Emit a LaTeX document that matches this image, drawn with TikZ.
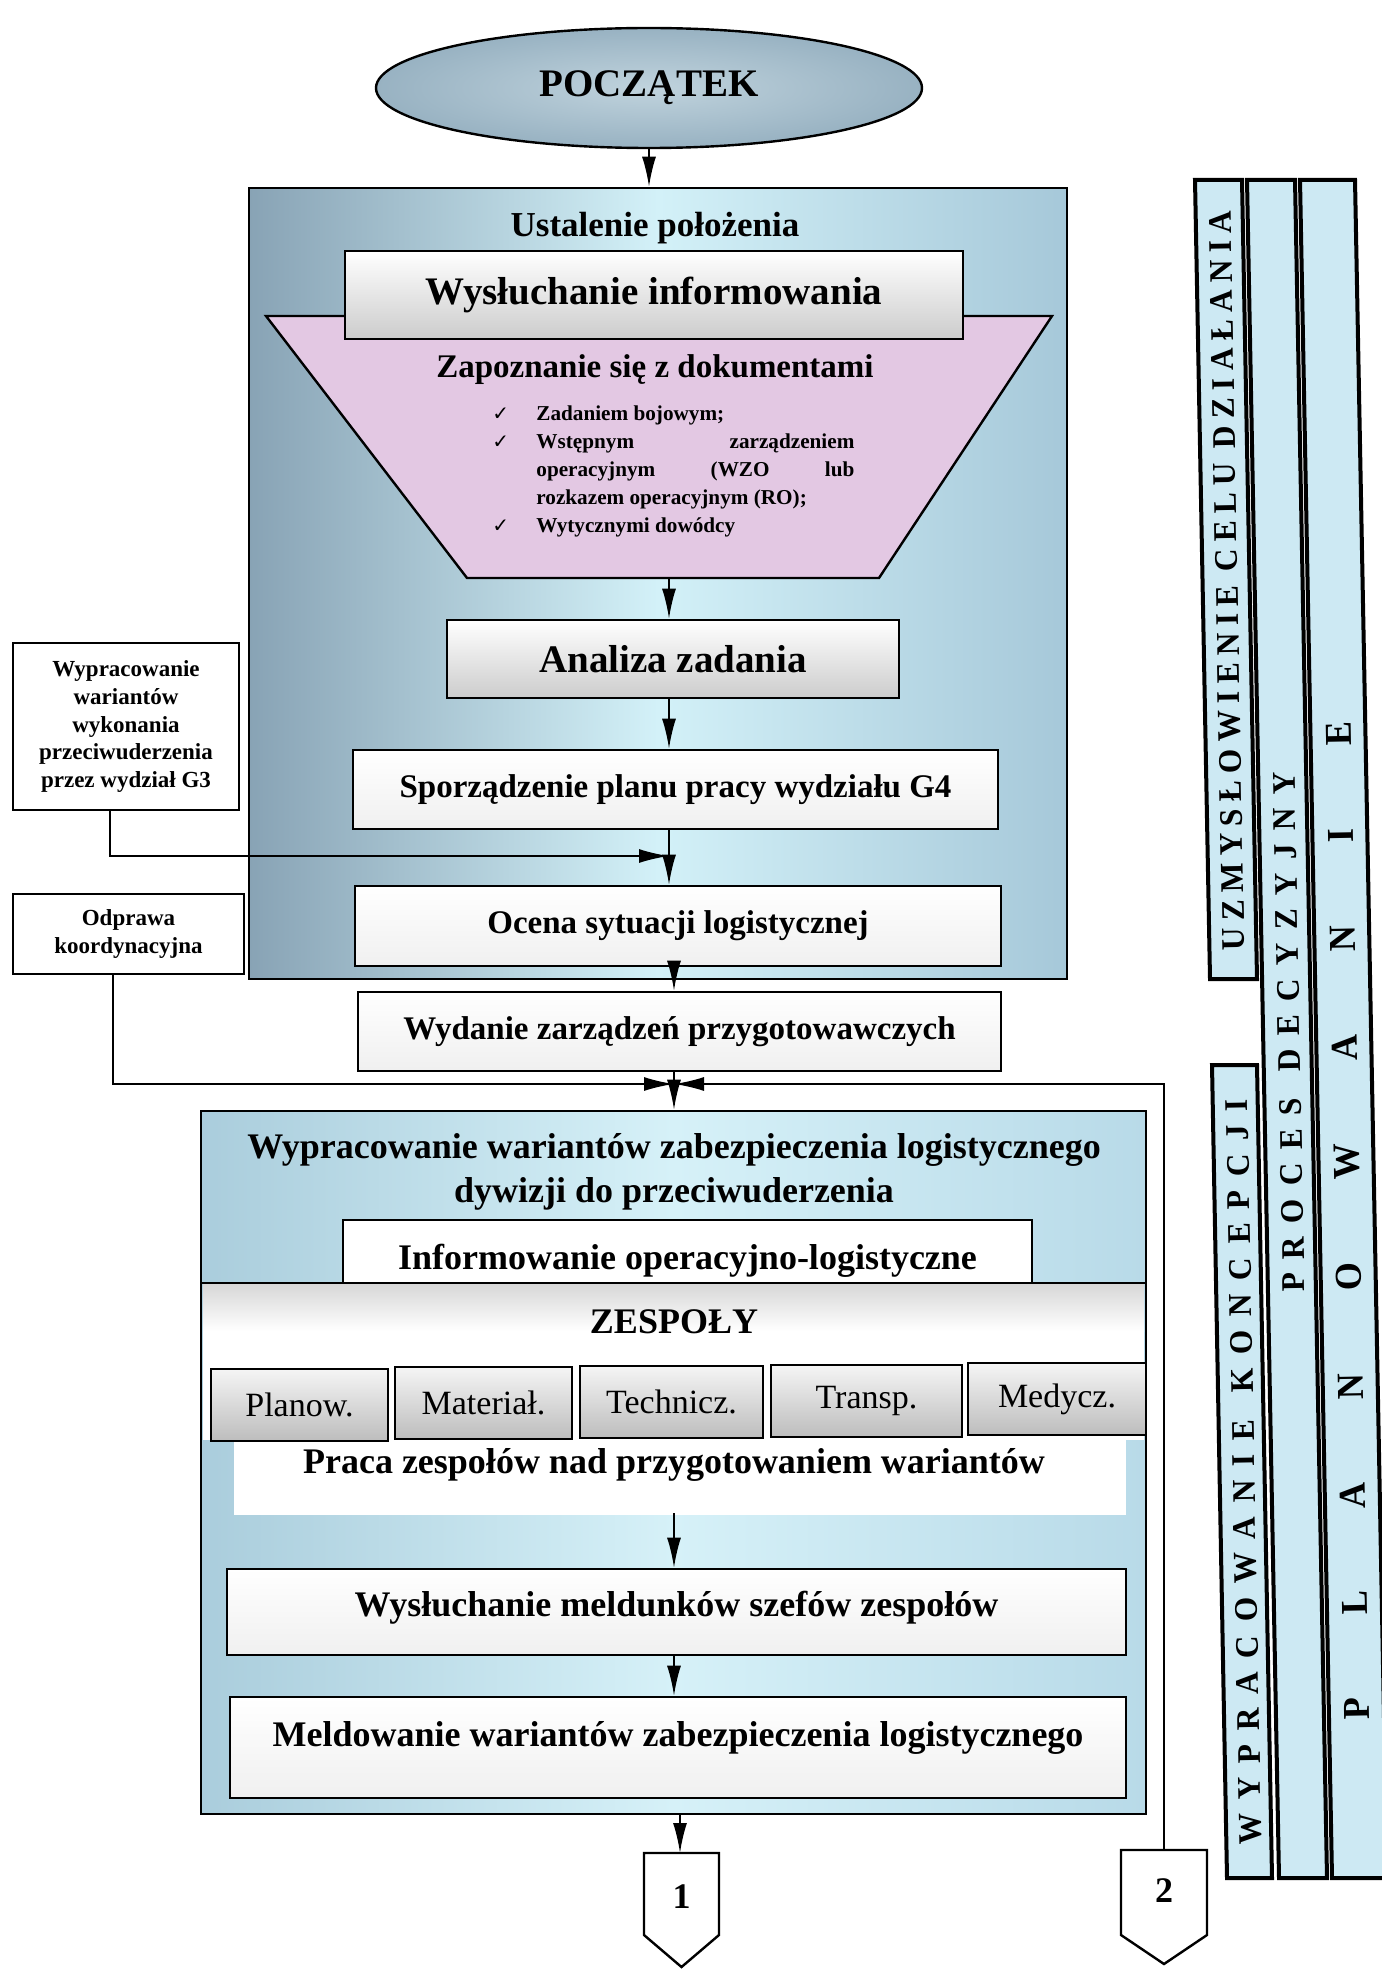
\documentclass[tikz,border=0pt]{standalone}
\usepackage{fontspec}
\setmainfont{Liberation Serif}
\newfontfamily\symfont{DejaVu Sans}
\newfontfamily\bandfont[FakeStretch=0.95]{Liberation Serif}
\newfontfamily\bandfontD[FakeStretch=0.95]{Liberation Serif}
\usetikzlibrary{arrows.meta,shapes.geometric,calc}

\definecolor{bOneL}{HTML}{88A3B5}
\definecolor{bOneM}{HTML}{D3F1F8}
\definecolor{bOneR}{HTML}{A6C8D9}
\definecolor{bTwoL}{HTML}{AACDDC}
\definecolor{bTwoM}{HTML}{D6F1F8}
\definecolor{bTwoR}{HTML}{B8DAE8}
\definecolor{ellO}{HTML}{98B2C2}
\definecolor{ellI}{HTML}{C0D3DD}
\definecolor{trapC}{HTML}{E3C8E3}
\definecolor{bandC}{HTML}{CDE9F3}

\ExplSyntaxOn
\NewDocumentCommand\spreadtext{mm}
 {
  \makebox[#1]{ \tl_map_inline:nn {#2} { \str_if_eq:nnTF {##1} {/} { \hfill } { ##1 \hfill } } \unskip }
 }
\ExplSyntaxOff

\newcommand\ck{\noindent\hangindent=22pt\hangafter=1\makebox[22pt][l]{\symfont\fontsize{10}{10}\selectfont ✓}}
\newcommand\fTitle{\fontsize{17.5}{21}\selectfont\bfseries}
\newcommand\fBig{\fontsize{19.5}{23}\selectfont\bfseries}
\newcommand\fMid{\fontsize{16.5}{20}\selectfont\bfseries}
\newcommand\fBox{\fontsize{18}{22}\selectfont\bfseries}
\newcommand\fSide{\fontsize{11.5}{13.8}\selectfont\bfseries}
\newcommand\fList{\fontsize{10.6}{14}\selectfont\bfseries}
\newcommand\fTeam{\fontsize{17}{20}\selectfont}
\newcommand\fBand{\bandfont\fontsize{16.5}{20}\selectfont\bfseries}
\newcommand\fBandD{\bandfontD\fontsize{19}{22}\selectfont\bfseries}

\tikzset{
 bx/.style={draw, line width=1.3pt, inner sep=0pt, align=center},
 arr/.style={-{Latex[length=15pt,width=7pt]}, line width=1pt},
 grayfill/.style={top color=white, bottom color=black!20},
 whitefill/.style={top color=white, bottom color=black!6},
 teamfill/.style={top color=black!4, bottom color=black!26},
 band/.style={fill=bandC, draw=black, line width=2pt},
 bandtxt/.style={font=\fBand, inner sep=0pt, rotate=91.08},
}

\begin{document}
\begin{tikzpicture}[x=0.5pt,y=-0.5pt]
\fill[white] (0,0) rectangle (1381,1969);
\useasboundingbox (0,0) rectangle (1381,1969);

% ---- right bands
\path[band] (1195,180) -- (1242,180) -- (1257,979) -- (1210,979) -- cycle;
\path[band] (1212,1065) -- (1257,1065) -- (1272,1878) -- (1227,1878) -- cycle;
\path[band] (1247,180) -- (1295,180) -- (1327,1878) -- (1279,1878) -- cycle;
\path[band] (1300,180) -- (1355,180) -- (1387,1878) -- (1332,1878) -- cycle;
\node[bandtxt] (tA) at (1227,581) {\spreadtext{370pt}{UZMYSŁOWIENIE/CELU/DZIAŁANIA}};
\node[bandtxt] (tB) at (1244,1472) {\spreadtext{373pt}{WYPRACOWANIE/KONCEPCJI}};
\node[bandtxt] (tC) at (1289,1032) {\spreadtext{260pt}{PROCES/DECYZYJNY}};
\node[bandtxt, font=\fBandD] (tD) at (1348,1221) {\spreadtext{499pt}{PLANOWANIE}};

% ---- start
\node[ellipse, draw, line width=1.2pt, inner color=ellI, outer color=ellO,
      minimum width=273pt, minimum height=60pt, font=\fontsize{19.5}{23}\selectfont\bfseries]
      (start) at (649,88) {POCZĄTEK};

% ---- box 1
\node[bx, minimum width=409pt, minimum height=395.5pt,
      left color=bOneL, right color=bOneR, middle color=bOneM] (b1) at (658,583.5) {};
\node[font=\fTitle] (t1) at (655,228) {Ustalenie położenia};

\path[fill=trapC, draw=black, line width=1.2pt] (266,316) -- (1052,316) -- (879,578) -- (467,578) -- cycle;
\coordinate (trapb) at (669,578);
\node[bx, grayfill, minimum width=309pt, minimum height=44pt, font=\fBig] (wysl) at (654,295) {Wysłuchanie informowania};
\node[font=\fMid] (zap) at (655,370) {Zapoznanie się z dokumentami};
\node[text width=181pt, align=justify, font=\fList, inner sep=0pt, anchor=north west] (list) at (492,405) {%
\ck Zadaniem bojowym;\par
\ck Wstępnym zarządzeniem\linebreak operacyjnym (WZO lub\linebreak rozkazem operacyjnym (RO);\par
\ck Wytycznymi dowódcy\par};

\node[bx, grayfill, minimum width=226pt, minimum height=39pt, font=\fBig] (anal) at (673,659) {Analiza zadania};
\node[bx, whitefill, minimum width=322.5pt, minimum height=39.5pt, font=\fMid] (sporz) at (675.5,789.5) {Sporządzenie planu pracy wydziału G4};
\node[bx, whitefill, minimum width=323pt, minimum height=40pt, font=\fMid] (ocena) at (678,926) {Ocena sytuacji logistycznej};
\node[bx, whitefill, minimum width=321.5pt, minimum height=39.5pt, font=\fMid] (wyd) at (679.5,1031.5) {Wydanie zarządzeń przygotowawczych};

% ---- side boxes
\node[bx, fill=white, minimum width=113pt, minimum height=83.5pt, font=\fSide] (g3) at (126,726.5)
  {Wypracowanie\\wariantów\\wykonania\\przeciwuderzenia\\przez wydział G3};
\node[bx, fill=white, minimum width=115.5pt, minimum height=40pt, font=\fSide] (odp) at (128.5,934)
  {Odprawa\\koordynacyjna};

% ---- box 2
\node[bx, minimum width=472.5pt, minimum height=351.5pt,
      left color=bTwoL, right color=bTwoR, middle color=bTwoM] (b2) at (673.5,1462.5) {};
\node[font=\fBox, align=center] (t2) at (674,1172)
  {Wypracowanie wariantów zabezpieczenia logistycznego\\dywizji do przeciwuderzenia};
\node[bx, fill=white, minimum width=344.5pt, minimum height=35pt, font=\fBox, text height=16pt, text depth=2pt] (inf) at (687.5,1255) {Informowanie operacyjno-logistyczne};
\fill[white] (203,1330) rectangle (1144,1440);
\shade[top color=black!16, bottom color=white] (203,1283) rectangle (1144,1331);
\fill[white] (234,1440) rectangle (1126,1515);
\draw[line width=1.3pt] (201,1283) -- (1146,1283);
\node[font=\fBox] (zesp) at (674,1322) {ZESPOŁY};
\node[bx, teamfill, minimum width=88.5pt, minimum height=36pt, font=\fTeam] (tm1) at (299.5,1405) {Planow.};
\node[bx, teamfill, minimum width=88.5pt, minimum height=36pt, font=\fTeam] (tm2) at (483.5,1403) {Materiał.};
\node[bx, teamfill, minimum width=91.5pt, minimum height=36pt, font=\fTeam] (tm3) at (671.5,1402) {Technicz.};
\node[bx, teamfill, minimum width=95.5pt, minimum height=36pt, font=\fTeam] (tm4) at (866.5,1401) {Transp.};
\node[bx, teamfill, minimum width=89pt, minimum height=36pt, font=\fTeam] (tm5) at (1057,1399) {Medycz.};
\node[font=\fBox] (praca) at (674,1465) {Praca zespołów nad przygotowaniem wariantów};
\coordinate (pracab) at (674,1513);
\node[bx, whitefill, minimum width=449.5pt, minimum height=43pt, font=\fBox, text depth=8pt] (wysl2) at (676.5,1612) {Wysłuchanie meldunków szefów zespołów};
\node[bx, whitefill, minimum width=448pt, minimum height=50.5pt, font=\fBox, text depth=14pt] (meld) at (678,1747.5) {Meldowanie wariantów zabezpieczenia logistycznego};

% ---- connectors (off-page)
\path[fill=white, draw=black, line width=1.2pt] (644,1853) -- (719,1853) -- (719,1935) -- (681.5,1967) -- (644,1935) -- cycle;
\coordinate (con1top) at (680,1853);
\node[font=\fBox] (con1) at (681.5,1897) {1};
\path[fill=white, draw=black, line width=1.2pt] (1121,1850) -- (1207,1850) -- (1207,1935) -- (1164,1964) -- (1121,1935) -- cycle;
\coordinate (con2top) at (1164,1850);
\node[font=\fBox] (con2) at (1164,1891) {2};

% ---- arrows
\coordinate (xs0) at (649,0);
\coordinate (xs1) at (669,0);
\coordinate (xs2) at (674,0);
\coordinate (xs3) at (680,0);
\draw[arr] (start.south -| xs0) -- (b1.north -| xs0);
\draw[arr] (trapb) -- (anal.north -| trapb);
\draw[arr] (anal.south -| xs1) -- (sporz.north -| xs1);
\coordinate (j1) at (669,856);
\draw[arr] (sporz.south -| xs1) -- (ocena.north -| xs1);
\draw[arr] ([xshift=-8pt]g3.south) |- (j1);
\draw[arr] (ocena.south -| xs2) -- (wyd.north -| xs2);
\coordinate (j2) at (674,1084);
\draw[arr] (wyd.south -| xs2) -- (b2.north -| xs2);
\draw[arr] ([xshift=-7.75pt]odp.south) |- (j2);
\draw[arr] (con2top) |- (j2);
\draw[arr] (pracab) -- (wysl2.north -| pracab);
\draw[arr] (wysl2.south -| xs2) -- (meld.north -| xs2);
\draw[arr] (b2.south -| xs3) -- (con1top);
\end{tikzpicture}
\end{document}
